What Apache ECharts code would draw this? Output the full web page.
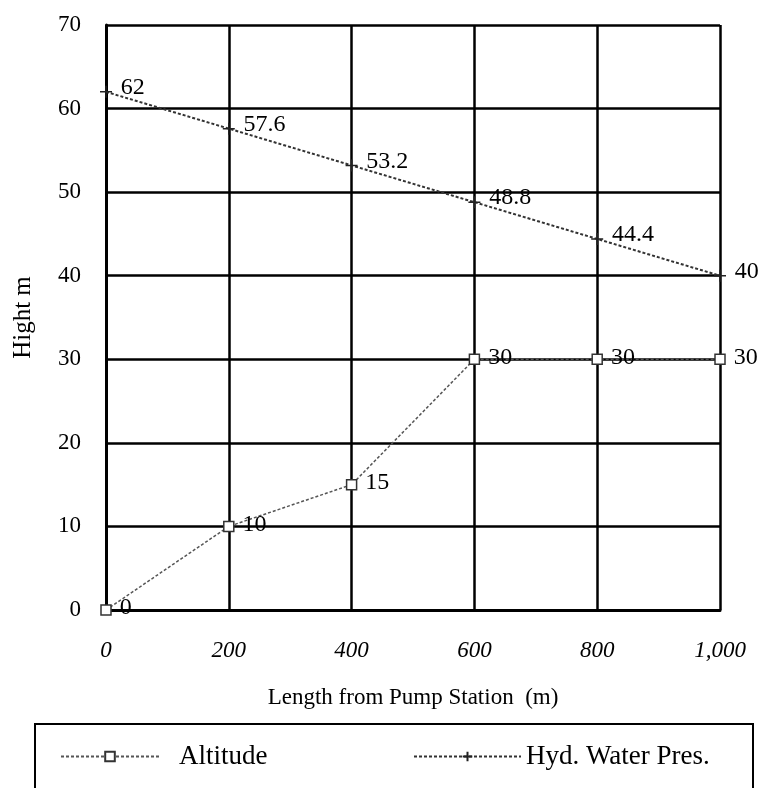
<!DOCTYPE html>
<html>
<head>
<meta charset="utf-8">
<script src="https://cdn.jsdelivr.net/npm/echarts@6/dist/echarts.min.js"></script>
<style>html,body{margin:0;padding:0;background:#fff}#c{width:765px;height:788px}</style>
</head>
<body>
<div id="c"></div>
<script>
var lengths = [0, 200, 400, 600, 800, 1000];
var altitude = [0, 10, 15, 30, 30, 30];
var hydPressure = [62, 57.6, 53.2, 48.8, 44.4, 40];
var seriesNames = ['Altitude', 'Hyd. Water Pres.'];
var xTitle = 'Length from Pump Station  (m)';
var yTitle = 'Hight m';

function pairs(xs, ys) { return xs.map(function (x, i) { return [x, ys[i]]; }); }

var font = 'Liberation Serif';
var chart = echarts.init(document.getElementById('c'), null, { renderer: 'canvas' });
var plusPath = 'path://M5,0 L5,10 M0,5 L10,5';

chart.setOption({
  animation: false,
  backgroundColor: '#fff',
  textStyle: { fontFamily: font, color: '#000' },
  grid: { left: 106, right: 45, top: 25, bottom: 178, containLabel: false },
  xAxis: {
    type: 'value', min: 0, max: 1000, interval: 200,
    name: xTitle, nameLocation: 'middle', nameGap: 76,
    nameTextStyle: { fontFamily: font, fontSize: 23, color: '#000' },
    axisLine: { show: true, lineStyle: { color: '#000', width: 3 } },
    axisTick: { show: false },
    axisLabel: { fontFamily: font, fontSize: 23, fontStyle: 'italic', color: '#000', margin: 29 },
    splitLine: { show: true, lineStyle: { color: '#000', width: 2.5 } }
  },
  yAxis: {
    type: 'value', min: 0, max: 70, interval: 10,
    name: yTitle, nameLocation: 'middle', nameGap: 70, nameRotate: 90,
    nameTextStyle: { fontFamily: font, fontSize: 25, color: '#000' },
    axisLine: { show: true, lineStyle: { color: '#000', width: 3 } },
    axisTick: { show: false },
    axisLabel: { fontFamily: font, fontSize: 23, color: '#000', margin: 25 },
    splitLine: { show: true, lineStyle: { color: '#000', width: 2.5 } }
  },
  legend: [
    {
      data: [seriesNames[0]], left: 55, top: 738, itemWidth: 98, itemHeight: 12,
      textStyle: { fontFamily: font, fontSize: 27, color: '#000', padding: [0, 0, 0, 15] }
    },
    {
      data: [seriesNames[1]], left: 408, top: 738, itemWidth: 107, itemHeight: 12,
      textStyle: { fontFamily: font, fontSize: 27, color: '#000', padding: [0, 0, 0, 0] }
    }
  ],
  graphic: [{
    type: 'rect', shape: { x: 35, y: 724, width: 718, height: 100 },
    style: { fill: 'none', stroke: '#000', lineWidth: 2 }, silent: true
  }],
  series: [
    {
      name: seriesNames[0], type: 'line', data: pairs(lengths, altitude),
      symbol: 'rect', symbolSize: 10, showAllSymbol: true,
      lineStyle: { color: '#555', width: 1.5, type: [3, 2] },
      itemStyle: { color: '#fff', borderColor: '#333', borderWidth: 1.5 },
      label: { show: true, position: 'right', distance: 8, offset: [0, -2], fontFamily: font, fontSize: 24, color: '#000' },
      z: 3
    },
    {
      name: seriesNames[1], type: 'line', data: pairs(lengths, hydPressure),
      symbol: plusPath, symbolSize: 12, showAllSymbol: true,
      lineStyle: { color: '#333', width: 2, type: [3, 2] },
      itemStyle: { color: 'transparent', borderColor: '#222', borderWidth: 1.5 },
      label: { show: true, position: 'right', distance: 8, offset: [0, -4], fontFamily: font, fontSize: 24, color: '#000' },
      z: 3
    }
  ]
});
</script>
</body>
</html>
